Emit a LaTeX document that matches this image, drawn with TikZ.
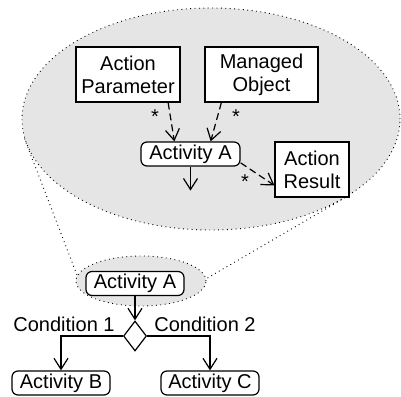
\documentclass[tikz,border=0pt]{standalone}
\usepackage{fontspec}
\setmainfont{Liberation Sans}
\usetikzlibrary{arrows.meta,shapes.geometric,positioning}

\begin{document}
\begin{tikzpicture}[x=1pt,y=-1pt,>={Straight Barb[length=11pt,width=14pt]},
			font=\fontsize{20}{23}\selectfont,line width=1.2pt,
			class/.style={draw,fill=white,align=center,inner sep=0pt,minimum height=55pt},
			activity/.style={draw,fill=white,rounded corners=6pt,inner sep=0pt,
				minimum width=98pt,minimum height=24pt},
			usage/.style={->,dash pattern=on 7pt off 4pt},
			zoomed/.style={ellipse,draw,fill=gray!20,inner sep=0pt,line width=0.9pt,
				dash pattern=on 0.9pt off 3.5pt},
			zoomline/.style={line width=0.9pt,dash pattern=on 0.9pt off 3.5pt},
			mult/.style={inner sep=0pt}]
			\useasboundingbox (0,0) rectangle (401,396);
			% detail view
			\node[zoomed,minimum width=378pt,minimum height=222pt] (detail) at (211,119) {};
			\node[zoomed,minimum width=130pt,minimum height=50pt] (focus) at (141,281) {};
			\draw[zoomline] (detail.186) -- (focus.175);
			\draw[zoomline] (detail.331) -- (focus.2);
			\node[class,minimum width=104pt] (param) at (128,74.5) {Action\\Parameter};
			\node[class,minimum width=113pt] (obj) at (261.5,74.5) {Managed\\Object};
			\node[activity,minimum width=99pt] (actA) at (190.5,154) {Activity A};
			\node[class,minimum width=74pt] (res) at (312,169.5) {Action\\Result};
			\coordinate (cont) at ([yshift=-24pt]actA.south);
			\draw[usage] (param.-35) -- (actA.142);
			\draw[usage] (obj.215) -- (actA.32);
			\draw[usage] (actA.-10) -- (res.203);
			\draw[->] (actA.south) -- (cont);
			\node[mult] (m1) at (155,117) {*};
			\node[mult] (m2) at (236,117) {*};
			\node[mult] (m3) at (245,182) {*};
			% flow
			\node[activity] (actA2) at (135,283.5) {Activity A};
			\node[diamond,draw,fill=white,inner sep=0pt,minimum width=23pt,
				minimum height=30pt] (dec) at (135,336) {};
			\node[activity] (actB) at (61,383) {Activity B};
			\node[activity] (actC) at (210,383) {Activity C};
			\node (cond1) at (64,324) {Condition 1};
			\node (cond2) at (205,324) {Condition 2};
			\draw[->] (actA2) -- (dec);
			\draw[->] (dec.west) -| (actB.north);
			\draw[->] (dec.east) -| (actC.north);
		\end{tikzpicture}
\end{document}
